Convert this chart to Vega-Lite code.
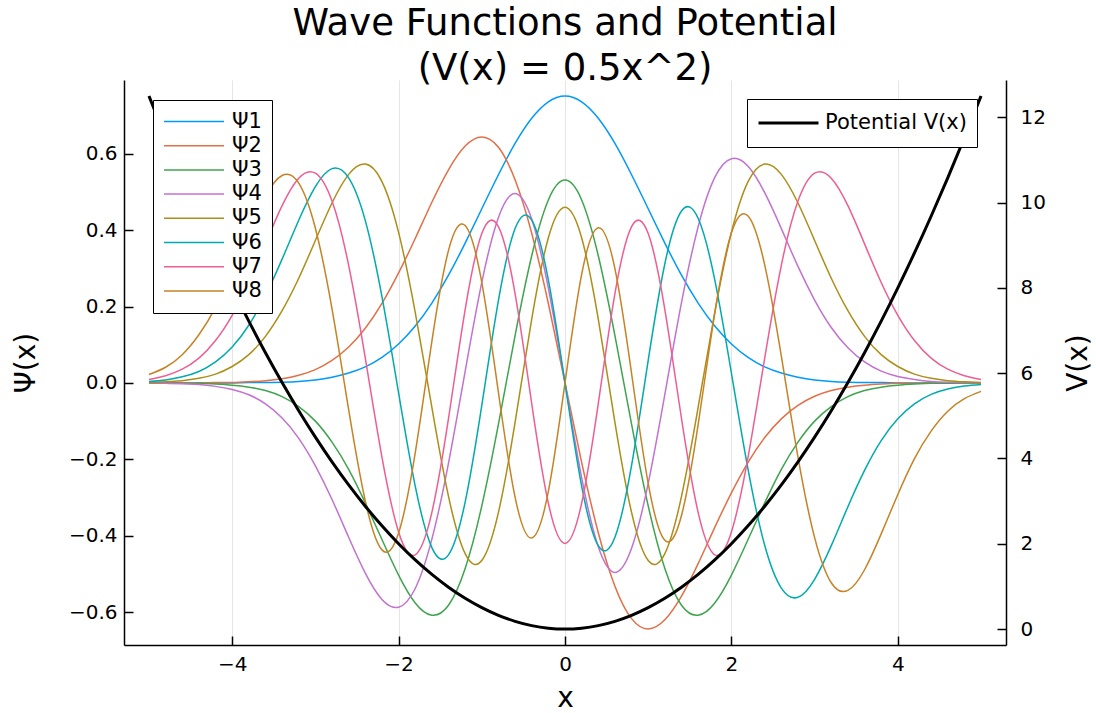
{
  "$schema": "https://vega.github.io/schema/vega-lite/v6.json",
  "width": 882,
  "height": 565,
  "autosize": "none",
  "padding": {"left": 124, "top": 80, "right": 90, "bottom": 68},
  "background": "white",
  "title": {
    "text": ["Wave Functions and Potential", "(V(x) = 0.5x^2)"],
    "font": "DejaVu Sans",
    "fontSize": 37,
    "fontWeight": "normal",
    "color": "black",
    "lineHeight": 45,
    "anchor": "middle",
    "offset": -8
  },
  "config": {
    "view": {"stroke": null},
    "font": "DejaVu Sans",
    "axis": {
      "labelFont": "DejaVu Sans",
      "titleFont": "DejaVu Sans",
      "labelFontSize": 20,
      "titleFontSize": 28,
      "titleFontWeight": "normal",
      "labelColor": "black",
      "titleColor": "black",
      "domainColor": "black",
      "tickColor": "black",
      "domainWidth": 1.5,
      "tickWidth": 1.5,
      "labelFlush": false,
      "labelOverlap": false
    }
  },
  "data": {
    "values": [
      {"x": -5.0, "p1": 0.000, "p2": 0.000, "p3": 0.000, "p4": 0.000, "p5": 0.001, "p6": 0.004, "p7": 0.009, "p8": 0.022, "V": 12.5},
      {"x": -4.8, "p1": 0.000, "p2": 0.000, "p3": 0.000, "p4": -0.001, "p5": 0.003, "p6": 0.008, "p7": 0.019, "p8": 0.041, "V": 11.52},
      {"x": -4.6, "p1": 0.000, "p2": 0.000, "p3": -0.001, "p4": -0.002, "p5": 0.006, "p6": 0.016, "p7": 0.036, "p8": 0.074, "V": 10.58},
      {"x": -4.4, "p1": 0.000, "p2": 0.000, "p3": -0.001, "p4": -0.004, "p5": 0.012, "p6": 0.030, "p7": 0.065, "p8": 0.126, "V": 9.68},
      {"x": -4.2, "p1": 0.000, "p2": 0.001, "p3": -0.003, "p4": -0.009, "p5": 0.023, "p6": 0.055, "p7": 0.111, "p8": 0.198, "V": 8.82},
      {"x": -4.0, "p1": 0.000, "p2": 0.001, "p3": -0.006, "p4": -0.017, "p5": 0.043, "p6": 0.094, "p7": 0.177, "p8": 0.292, "V": 8.0},
      {"x": -3.8, "p1": 0.001, "p2": 0.003, "p3": -0.011, "p4": -0.031, "p5": 0.074, "p6": 0.151, "p7": 0.263, "p8": 0.395, "V": 7.22},
      {"x": -3.6, "p1": 0.001, "p2": 0.006, "p3": -0.020, "p4": -0.055, "p5": 0.122, "p6": 0.229, "p7": 0.364, "p8": 0.489, "V": 6.48},
      {"x": -3.4, "p1": 0.002, "p2": 0.011, "p3": -0.036, "p4": -0.092, "p5": 0.189, "p6": 0.324, "p7": 0.464, "p8": 0.543, "V": 5.78},
      {"x": -3.2, "p1": 0.004, "p2": 0.020, "p3": -0.062, "p4": -0.145, "p5": 0.274, "p6": 0.426, "p7": 0.536, "p8": 0.523, "V": 5.12},
      {"x": -3.0, "p1": 0.008, "p2": 0.035, "p3": -0.100, "p4": -0.217, "p5": 0.373, "p6": 0.514, "p7": 0.549, "p8": 0.405, "V": 4.5},
      {"x": -2.8, "p1": 0.015, "p2": 0.059, "p3": -0.155, "p4": -0.305, "p5": 0.471, "p6": 0.561, "p7": 0.476, "p8": 0.194, "V": 3.92},
      {"x": -2.6, "p1": 0.026, "p2": 0.094, "p3": -0.226, "p4": -0.404, "p5": 0.546, "p6": 0.537, "p7": 0.308, "p8": -0.070, "V": 3.38},
      {"x": -2.4, "p1": 0.042, "p2": 0.143, "p3": -0.314, "p4": -0.498, "p5": 0.573, "p6": 0.425, "p7": 0.065, "p8": -0.309, "V": 2.88},
      {"x": -2.2, "p1": 0.067, "p2": 0.208, "p3": -0.410, "p4": -0.567, "p5": 0.527, "p6": 0.226, "p7": -0.194, "p8": -0.437, "V": 2.42},
      {"x": -2.0, "p1": 0.102, "p2": 0.288, "p3": -0.503, "p4": -0.587, "p5": 0.394, "p6": -0.026, "p7": -0.390, "p8": -0.393, "V": 2.0},
      {"x": -1.8, "p1": 0.149, "p2": 0.378, "p3": -0.576, "p4": -0.538, "p5": 0.185, "p6": -0.270, "p7": -0.450, "p8": -0.183, "V": 1.62},
      {"x": -1.6, "p1": 0.209, "p2": 0.473, "p3": -0.608, "p4": -0.409, "p5": -0.064, "p6": -0.431, "p7": -0.339, "p8": 0.109, "V": 1.28},
      {"x": -1.4, "p1": 0.282, "p2": 0.558, "p3": -0.582, "p4": -0.210, "p5": -0.297, "p6": -0.450, "p7": -0.093, "p8": 0.347, "V": 0.98},
      {"x": -1.2, "p1": 0.366, "p2": 0.620, "p3": -0.486, "p4": 0.030, "p5": -0.447, "p6": -0.312, "p7": 0.192, "p8": 0.412, "V": 0.72},
      {"x": -1.0, "p1": 0.456, "p2": 0.644, "p3": -0.322, "p4": 0.263, "p5": -0.465, "p6": -0.059, "p7": 0.391, "p8": 0.263, "V": 0.5},
      {"x": -0.8, "p1": 0.545, "p2": 0.617, "p3": -0.108, "p4": 0.433, "p5": -0.339, "p6": 0.216, "p7": 0.409, "p8": -0.025, "V": 0.32},
      {"x": -0.6, "p1": 0.627, "p2": 0.532, "p3": 0.124, "p4": 0.496, "p5": -0.103, "p6": 0.404, "p7": 0.234, "p8": -0.299, "V": 0.18},
      {"x": -0.4, "p1": 0.693, "p2": 0.392, "p3": 0.333, "p4": 0.429, "p5": 0.167, "p6": 0.426, "p7": -0.054, "p8": -0.406, "V": 0.08},
      {"x": -0.2, "p1": 0.736, "p2": 0.208, "p3": 0.479, "p4": 0.248, "p5": 0.380, "p6": 0.270, "p7": -0.315, "p8": -0.284, "V": 0.02},
      {"x": 0.0, "p1": 0.751, "p2": 0.000, "p3": 0.531, "p4": 0.000, "p5": 0.460, "p6": 0.000, "p7": -0.420, "p8": 0.000, "V": 0.0},
      {"x": 0.2, "p1": 0.736, "p2": -0.208, "p3": 0.479, "p4": -0.248, "p5": 0.380, "p6": -0.270, "p7": -0.315, "p8": 0.284, "V": 0.02},
      {"x": 0.4, "p1": 0.693, "p2": -0.392, "p3": 0.333, "p4": -0.429, "p5": 0.167, "p6": -0.426, "p7": -0.054, "p8": 0.406, "V": 0.08},
      {"x": 0.6, "p1": 0.627, "p2": -0.532, "p3": 0.124, "p4": -0.496, "p5": -0.103, "p6": -0.404, "p7": 0.234, "p8": 0.299, "V": 0.18},
      {"x": 0.8, "p1": 0.545, "p2": -0.617, "p3": -0.108, "p4": -0.433, "p5": -0.339, "p6": -0.216, "p7": 0.409, "p8": 0.025, "V": 0.32},
      {"x": 1.0, "p1": 0.456, "p2": -0.644, "p3": -0.322, "p4": -0.263, "p5": -0.465, "p6": 0.059, "p7": 0.391, "p8": -0.263, "V": 0.5},
      {"x": 1.2, "p1": 0.366, "p2": -0.620, "p3": -0.486, "p4": -0.030, "p5": -0.447, "p6": 0.312, "p7": 0.192, "p8": -0.412, "V": 0.72},
      {"x": 1.4, "p1": 0.282, "p2": -0.558, "p3": -0.582, "p4": 0.210, "p5": -0.297, "p6": 0.450, "p7": -0.093, "p8": -0.347, "V": 0.98},
      {"x": 1.6, "p1": 0.209, "p2": -0.473, "p3": -0.608, "p4": 0.409, "p5": -0.064, "p6": 0.431, "p7": -0.339, "p8": -0.109, "V": 1.28},
      {"x": 1.8, "p1": 0.149, "p2": -0.378, "p3": -0.576, "p4": 0.538, "p5": 0.185, "p6": 0.270, "p7": -0.450, "p8": 0.183, "V": 1.62},
      {"x": 2.0, "p1": 0.102, "p2": -0.288, "p3": -0.503, "p4": 0.587, "p5": 0.394, "p6": 0.026, "p7": -0.390, "p8": 0.393, "V": 2.0},
      {"x": 2.2, "p1": 0.067, "p2": -0.208, "p3": -0.410, "p4": 0.567, "p5": 0.527, "p6": -0.226, "p7": -0.194, "p8": 0.437, "V": 2.42},
      {"x": 2.4, "p1": 0.042, "p2": -0.143, "p3": -0.314, "p4": 0.498, "p5": 0.573, "p6": -0.425, "p7": 0.065, "p8": 0.309, "V": 2.88},
      {"x": 2.6, "p1": 0.026, "p2": -0.094, "p3": -0.226, "p4": 0.404, "p5": 0.546, "p6": -0.537, "p7": 0.308, "p8": 0.070, "V": 3.38},
      {"x": 2.8, "p1": 0.015, "p2": -0.059, "p3": -0.155, "p4": 0.305, "p5": 0.471, "p6": -0.561, "p7": 0.476, "p8": -0.194, "V": 3.92},
      {"x": 3.0, "p1": 0.008, "p2": -0.035, "p3": -0.100, "p4": 0.217, "p5": 0.373, "p6": -0.514, "p7": 0.549, "p8": -0.405, "V": 4.5},
      {"x": 3.2, "p1": 0.004, "p2": -0.020, "p3": -0.062, "p4": 0.145, "p5": 0.274, "p6": -0.426, "p7": 0.536, "p8": -0.523, "V": 5.12},
      {"x": 3.4, "p1": 0.002, "p2": -0.011, "p3": -0.036, "p4": 0.092, "p5": 0.189, "p6": -0.324, "p7": 0.464, "p8": -0.543, "V": 5.78},
      {"x": 3.6, "p1": 0.001, "p2": -0.006, "p3": -0.020, "p4": 0.055, "p5": 0.122, "p6": -0.229, "p7": 0.364, "p8": -0.489, "V": 6.48},
      {"x": 3.8, "p1": 0.001, "p2": -0.003, "p3": -0.011, "p4": 0.031, "p5": 0.074, "p6": -0.151, "p7": 0.263, "p8": -0.395, "V": 7.22},
      {"x": 4.0, "p1": 0.000, "p2": -0.001, "p3": -0.006, "p4": 0.017, "p5": 0.043, "p6": -0.094, "p7": 0.177, "p8": -0.292, "V": 8.0},
      {"x": 4.2, "p1": 0.000, "p2": -0.001, "p3": -0.003, "p4": 0.009, "p5": 0.023, "p6": -0.055, "p7": 0.111, "p8": -0.198, "V": 8.82},
      {"x": 4.4, "p1": 0.000, "p2": 0.000, "p3": -0.001, "p4": 0.004, "p5": 0.012, "p6": -0.030, "p7": 0.065, "p8": -0.126, "V": 9.68},
      {"x": 4.6, "p1": 0.000, "p2": 0.000, "p3": -0.001, "p4": 0.002, "p5": 0.006, "p6": -0.016, "p7": 0.036, "p8": -0.074, "V": 10.58},
      {"x": 4.8, "p1": 0.000, "p2": 0.000, "p3": 0.000, "p4": 0.001, "p5": 0.003, "p6": -0.008, "p7": 0.019, "p8": -0.041, "V": 11.52},
      {"x": 5.0, "p1": 0.000, "p2": 0.000, "p3": 0.000, "p4": 0.000, "p5": 0.001, "p6": -0.004, "p7": 0.009, "p8": -0.022, "V": 12.5}
    ]
  },
  "encoding": {
    "x": {
      "field": "x",
      "type": "quantitative",
      "scale": {"domain": [-5.3, 5.3], "nice": false, "zero": false},
      "axis": {
        "values": [-4, -2, 0, 2, 4],
        "format": "d",
        "grid": true,
        "gridColor": "black",
        "gridOpacity": 0.1,
        "gridWidth": 1,
        "tickSize": -9,
        "labelPadding": 18,
        "title": "x",
        "titlePadding": 10
      }
    }
  },
  "layer": [
    {
      "transform": [{"fold": ["p1", "p2", "p3", "p4", "p5", "p6", "p7", "p8"], "as": ["series", "psi"]}],
      "mark": {"type": "line", "strokeWidth": 1.5, "interpolate": "natural"},
      "encoding": {
        "y": {
          "field": "psi",
          "type": "quantitative",
          "scale": {"domain": [-0.686, 0.793], "nice": false, "zero": false},
          "axis": {
            "values": [-0.6, -0.4, -0.2, 0, 0.2, 0.4, 0.6],
            "format": ".1f",
            "grid": false,
            "tickSize": -9,
            "labelPadding": 16,
            "title": "Ψ(x)",
            "titlePadding": 28
          }
        },
        "color": {
          "field": "series",
          "type": "nominal",
          "scale": {
            "domain": ["p1", "p2", "p3", "p4", "p5", "p6", "p7", "p8"],
            "range": ["#009AFA", "#E36F47", "#3EA44E", "#C371D2", "#AC8E18", "#00AAAE", "#ED5E93", "#C68225"]
          },
          "legend": {
            "orient": "none",
            "legendX": 29,
            "legendY": 20,
            "title": null,
            "strokeColor": "black",
            "fillColor": "white",
            "padding": 10,
            "symbolType": "stroke",
            "symbolSize": 3600,
            "symbolStrokeWidth": 1.5,
            "clipHeight": 23,
            "rowPadding": 1.2,
            "labelFont": "DejaVu Sans",
            "labelFontSize": 21,
            "labelColor": "black",
            "labelOffset": 7,
            "labelExpr": "'Ψ' + substring(datum.label, 1)"
          }
        }
      }
    },
    {
      "mark": {"type": "line", "strokeWidth": 3, "color": "black", "interpolate": "natural"},
      "encoding": {
        "y": {
          "field": "V",
          "type": "quantitative",
          "scale": {"domain": [-0.375, 12.875], "nice": false, "zero": false},
          "axis": {
            "orient": "right",
            "values": [0, 2, 4, 6, 8, 10, 12],
            "format": "d",
            "grid": false,
            "tickSize": -9,
            "labelPadding": 23,
            "title": "V(x)",
            "titleAngle": 270,
            "titlePadding": 47
          }
        },
        "color": {
          "datum": "Potential V(x)",
          "type": "nominal",
          "scale": {"domain": ["Potential V(x)"], "range": ["black"]},
          "legend": {
            "orient": "none",
            "legendX": 623,
            "legendY": 19,
            "title": null,
            "strokeColor": "black",
            "fillColor": "white",
            "padding": 10,
            "symbolType": "stroke",
            "symbolSize": 3600,
            "symbolStrokeWidth": 3,
            "clipHeight": 28,
            "labelFont": "DejaVu Sans",
            "labelFontSize": 21,
            "labelColor": "black",
            "labelOffset": 5
          }
        }
      }
    }
  ],
  "resolve": {
    "scale": {"y": "independent", "color": "independent"},
    "legend": {"color": "independent"}
  }
}
